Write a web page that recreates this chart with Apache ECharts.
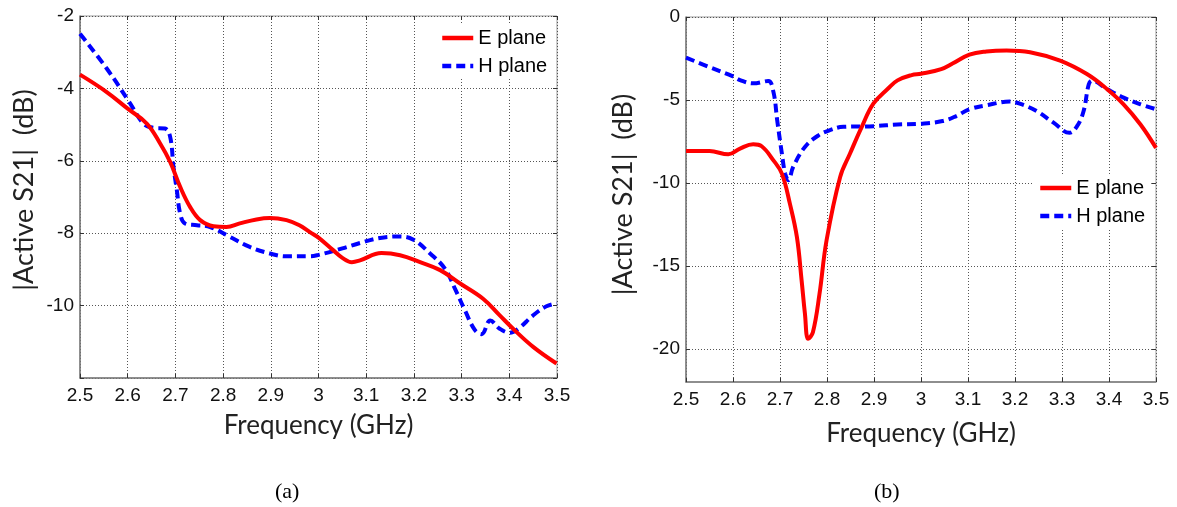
<!DOCTYPE html>
<html>
<head>
<meta charset="utf-8">
<script src="https://cdn.jsdelivr.net/npm/echarts@6/dist/echarts.min.js"></script>
<style>
  html, body { margin: 0; padding: 0; background: #ffffff; }
  #chart { width: 1177px; height: 507px; }
</style>
</head>
<body>
<div id="chart"></div>
<script>
// (a) measured |Active S21| for the E and H planes
const freqEa = [2.50, 2.556, 2.600, 2.640, 2.668, 2.689, 2.710, 2.731, 2.752, 2.780, 2.807, 2.835, 2.870, 2.898, 2.933, 2.960, 2.982, 3.00, 3.03, 3.05, 3.07, 3.087, 3.132, 3.171, 3.213, 3.255, 3.297, 3.345, 3.380, 3.408, 3.450, 3.499];
const s21Ea  = [-3.62, -4.10, -4.56, -4.97, -5.52, -6.03, -6.72, -7.28, -7.64, -7.81, -7.83, -7.73, -7.62, -7.58, -7.64, -7.78, -7.97, -8.12, -8.46, -8.68, -8.80, -8.75, -8.55, -8.61, -8.80, -9.02, -9.39, -9.81, -10.27, -10.64, -11.14, -11.60];
const freqHa = [2.50, 2.556, 2.603, 2.633, 2.654, 2.678, 2.689, 2.696, 2.703, 2.710, 2.720, 2.745, 2.773, 2.814, 2.856, 2.898, 2.933, 2.982, 3.00, 3.05, 3.087, 3.129, 3.171, 3.199, 3.234, 3.265, 3.286, 3.307, 3.328, 3.342, 3.360, 3.380, 3.401, 3.419, 3.450, 3.478, 3.50];
const s21Ha  = [-2.49, -3.45, -4.37, -4.97, -5.09, -5.11, -5.34, -6.17, -6.81, -7.46, -7.73, -7.78, -7.83, -8.10, -8.38, -8.56, -8.64, -8.64, -8.60, -8.42, -8.27, -8.13, -8.09, -8.18, -8.56, -8.98, -9.53, -10.13, -10.68, -10.79, -10.41, -10.64, -10.75, -10.64, -10.27, -10.02, -9.94];

// (b) measured |Active S21| for the E and H planes
const freqEb = [2.50, 2.55, 2.59, 2.615, 2.643, 2.661, 2.686, 2.704, 2.721, 2.736, 2.746, 2.753, 2.760, 2.770, 2.784, 2.799, 2.828, 2.849, 2.874, 2.899, 2.930, 2.95, 2.98, 3.00, 3.043, 3.068, 3.103, 3.139, 3.182, 3.232, 3.296, 3.353, 3.396, 3.431, 3.467, 3.50];
const s21Eb  = [-8.08, -8.08, -8.28, -7.93, -7.67, -7.79, -8.64, -9.44, -11.25, -13.27, -15.88, -17.87, -19.40, -19.00, -16.70, -13.47, -9.64, -8.23, -6.62, -5.21, -4.31, -3.82, -3.50, -3.42, -3.14, -2.79, -2.27, -2.08, -2.02, -2.12, -2.63, -3.44, -4.35, -5.26, -6.48, -7.89];
const freqHb = [2.50, 2.55, 2.60, 2.615, 2.643, 2.675, 2.686, 2.694, 2.704, 2.711, 2.718, 2.728, 2.753, 2.782, 2.806, 2.835, 2.899, 2.95, 3.00, 3.046, 3.075, 3.103, 3.139, 3.189, 3.210, 3.246, 3.282, 3.316, 3.332, 3.346, 3.357, 3.364, 3.396, 3.431, 3.467, 3.50];
const s21Hb  = [-2.45, -3.02, -3.58, -3.80, -4.00, -3.86, -4.51, -6.22, -8.23, -9.44, -9.84, -9.04, -7.83, -7.13, -6.82, -6.62, -6.58, -6.48, -6.43, -6.27, -5.97, -5.56, -5.32, -5.10, -5.22, -5.67, -6.37, -6.98, -6.58, -5.67, -4.05, -3.84, -4.35, -4.86, -5.26, -5.56];

// tick values
const freqTicks = [2.5, 2.6, 2.7, 2.8, 2.9, 3.0, 3.1, 3.2, 3.3, 3.4, 3.5];
const yTicksA = [-12, -10, -8, -6, -4, -2];
const yTicksB = [-20, -15, -10, -5, 0];

const seriesNames = ['E plane', 'H plane'];
const captions = ['(a)', '(b)'];

const zip = (xs, ys) => xs.map((x, i) => [x, ys[i]]);

const SANS = '"Liberation Sans", Arial, sans-serif';
const TITLE_FONT = 'Lato, "Open Sans", sans-serif';
const GRID_LINE = { show: true, lineStyle: { color: '#555', width: 1, type: [1, 2] } };
const FRAME = '#7a7a7a';

const fmtFreq = v => String(Math.round(v * 10) / 10);

function freqAxis(gridIndex, nameGap) {
  return {
    type: 'value', gridIndex, min: 2.5, max: 3.5,
    name: 'Frequency (GHz)', nameLocation: 'middle', nameGap,
    nameTextStyle: { fontFamily: TITLE_FONT, fontSize: 26, color: '#222' },
    axisLine: { show: true, onZero: false, lineStyle: { color: FRAME, width: 1.5 } },
    axisTick: { show: true, inside: true, length: 4, customValues: freqTicks, lineStyle: { color: '#333' } },
    axisLabel: { customValues: freqTicks, formatter: fmtFreq, fontFamily: SANS, fontSize: 19, color: '#111', margin: 8 },
    splitLine: Object.assign({ customValues: freqTicks }, GRID_LINE)
  };
}
function freqTopAxis(gridIndex) {
  return {
    type: 'value', gridIndex, min: 2.5, max: 3.5, position: 'top',
    axisLine: { show: false }, axisLabel: { show: false }, splitLine: { show: false },
    axisTick: { show: true, inside: true, length: 4, customValues: freqTicks, lineStyle: { color: '#333' } }
  };
}
function s21Axis(gridIndex, min, max, ticks, nameGap, lift) {
  return {
    type: 'value', gridIndex, min, max,
    name: '|Active S21|  (dB)', nameLocation: 'middle', nameGap, nameRotate: 90,
    nameTextStyle: { fontFamily: TITLE_FONT, fontSize: 27, color: '#222', padding: [0, 0, 0, lift] },
    axisLine: { show: true, onZero: false, lineStyle: { color: FRAME, width: 1.5 } },
    axisTick: { show: true, inside: true, length: 4, customValues: ticks, lineStyle: { color: '#333' } },
    axisLabel: { customValues: ticks.filter(t => t !== min), fontFamily: SANS, fontSize: 19, color: '#111', margin: 6 },
    splitLine: Object.assign({ customValues: ticks }, GRID_LINE)
  };
}
function s21RightAxis(gridIndex, min, max, ticks) {
  return {
    type: 'value', gridIndex, min, max, position: 'right',
    axisLine: { show: false }, axisLabel: { show: false }, splitLine: { show: false },
    axisTick: { show: true, inside: true, length: 4, customValues: ticks, lineStyle: { color: '#333' } }
  };
}

function lineSeries(name, data, axisIdx, dashed) {
  return {
    name, type: 'line', data, xAxisIndex: axisIdx, yAxisIndex: axisIdx,
    showSymbol: false, symbol: 'none', smooth: 0.4, z: dashed ? 3 : 4,
    lineStyle: dashed
      ? { color: '#0000ff', width: 4, type: [9, 5] }
      : { color: '#ff0000', width: 4 },
    itemStyle: { color: dashed ? '#0000ff' : '#ff0000' }
  };
}

function legendAt(left, top) {
  return {
    data: seriesNames, orient: 'vertical', left, top,
    itemWidth: 31, itemHeight: 14, itemGap: 8,
    backgroundColor: '#ffffff', padding: [3, 6, 3, 4],
    selectedMode: false,
    itemStyle: { opacity: 0 },
    lineStyle: { width: 4.5 },
    textStyle: { fontFamily: SANS, fontSize: 20, color: '#000' }
  };
}

const chart = echarts.init(document.getElementById('chart'), null, { renderer: 'canvas' });
chart.setOption({
  animation: false,
  backgroundColor: '#ffffff',
  grid: [
    { left: 80, top: 16, width: 477, height: 362, show: true, borderColor: '#9a9a9a', borderWidth: 1, backgroundColor: 'transparent' },
    { left: 686, top: 17, width: 470, height: 365, show: true, borderColor: '#9a9a9a', borderWidth: 1, backgroundColor: 'transparent' }
  ],
  xAxis: [freqAxis(0, 35), freqAxis(1, 39), freqTopAxis(0), freqTopAxis(1)],
  yAxis: [s21Axis(0, -12, -2, yTicksA, 42, 14), s21Axis(1, -22, 0, yTicksB, 49, 10), s21RightAxis(0, -12, -2, yTicksA), s21RightAxis(1, -22, 0, yTicksB)],
  legend: [legendAt(436, 25), legendAt(1034, 175)],
  series: [
    lineSeries(seriesNames[0], zip(freqEa, s21Ea), 0, false),
    lineSeries(seriesNames[1], zip(freqHa, s21Ha), 0, true),
    lineSeries(seriesNames[0], zip(freqEb, s21Eb), 1, false),
    lineSeries(seriesNames[1], zip(freqHb, s21Hb), 1, true)
  ],
  graphic: [
    { type: 'text', left: 275, top: 481, style: { text: captions[0], font: '22px "Liberation Serif", "Times New Roman", serif', fill: '#000' } },
    { type: 'text', left: 874, top: 481, style: { text: captions[1], font: '22px "Liberation Serif", "Times New Roman", serif', fill: '#000' } }
  ]
});
</script>
</body>
</html>
